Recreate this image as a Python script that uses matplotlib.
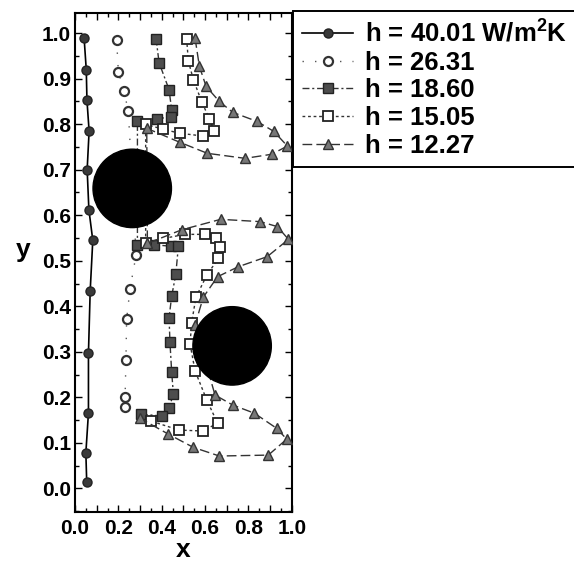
import matplotlib.pyplot as plt
from matplotlib.patches import Ellipse
from matplotlib.ticker import MultipleLocator, FuncFormatter

plt.rcParams["font.family"] = "Liberation Sans"
plt.rcParams["font.weight"] = "bold"
plt.rcParams["mathtext.fontset"] = "custom"
plt.rcParams["mathtext.rm"] = "Liberation Sans:bold"
plt.rcParams["mathtext.bf"] = "Liberation Sans:bold"
plt.rcParams["mathtext.it"] = "Liberation Sans:bold"

# Daten
labels = ["h = 40.01 W/m$^2$K", "h = 26.31", "h = 18.60", "h = 15.05", "h = 12.27"]

x_4001 = [0.042, 0.052, 0.055, 0.065, 0.056, 0.064, 0.082, 0.07, 0.062, 0.062, 0.05, 0.054]
y_4001 = [0.989, 0.919, 0.853, 0.785, 0.700, 0.612, 0.545, 0.434, 0.297, 0.166, 0.078, 0.013]

x_2631 = [0.192, 0.200, 0.226, 0.246, 0.282, 0.254, 0.238, 0.235, 0.231, 0.231]
y_2631 = [0.985, 0.915, 0.873, 0.828, 0.513, 0.439, 0.371, 0.282, 0.200, 0.179]

x_1860 = [0.374, 0.388, 0.434, 0.446, 0.442, 0.380, 0.288, 0.288, 0.365, 0.443, 0.477,
          0.465, 0.446, 0.434, 0.438, 0.446, 0.454, 0.434, 0.400, 0.303]
y_1860 = [0.988, 0.935, 0.876, 0.831, 0.816, 0.812, 0.806, 0.535, 0.535, 0.532, 0.532,
          0.470, 0.422, 0.375, 0.322, 0.256, 0.207, 0.177, 0.159, 0.163]

x_1505 = [0.515, 0.523, 0.546, 0.585, 0.620, 0.643, 0.592, 0.485, 0.405, 0.326, 0.326,
          0.408, 0.508, 0.600, 0.651, 0.669, 0.661, 0.608, 0.558, 0.538, 0.531, 0.554,
          0.608, 0.658, 0.589, 0.480, 0.349]
y_1505 = [0.988, 0.939, 0.898, 0.849, 0.812, 0.785, 0.774, 0.780, 0.789, 0.800, 0.540,
          0.549, 0.558, 0.558, 0.549, 0.530, 0.505, 0.468, 0.420, 0.363, 0.317, 0.258,
          0.194, 0.143, 0.126, 0.128, 0.148]

x_1227 = [0.554, 0.574, 0.605, 0.666, 0.728, 0.841, 0.918, 0.980, 0.908, 0.785, 0.611,
          0.485, 0.331, 0.334, 0.492, 0.672, 0.854, 0.934, 0.985, 0.887, 0.754, 0.658,
          0.592, 0.554, 0.646, 0.728, 0.828, 0.930, 0.977, 0.892, 0.666, 0.546, 0.431, 0.300]
y_1227 = [0.989, 0.927, 0.883, 0.850, 0.826, 0.806, 0.784, 0.752, 0.734, 0.725, 0.736,
          0.760, 0.791, 0.538, 0.568, 0.591, 0.586, 0.575, 0.547, 0.509, 0.487, 0.465,
          0.420, 0.359, 0.205, 0.183, 0.165, 0.132, 0.108, 0.073, 0.071, 0.090, 0.119, 0.154]

# Zylinder (Mittelpunkt, Radius in x-Einheiten)
cyl_x = [0.264, 0.725]
cyl_y = [0.659, 0.313]
cyl_r = 0.181

fig = plt.figure(figsize=(5.74, 5.67), dpi=100)
ax = fig.add_axes([0.1307, 0.097, 0.5082 - 0.1307, 0.9776 - 0.097])

ax.plot(x_4001, y_4001, color="black", linewidth=1.2, linestyle="-",
        marker="o", markersize=6.5, markerfacecolor="#3a3a3a", markeredgecolor="#222222",
        label=labels[0], zorder=4)
ax.plot(x_2631, y_2631, color="#555555", linewidth=1.0, linestyle=(0, (1, 8)),
        marker="o", markersize=6.5, markerfacecolor="white", markeredgecolor="#333333",
        markeredgewidth=1.6, label=labels[1], zorder=4)
ax.plot(x_1860, y_1860, color="#333333", linewidth=1.0, linestyle=(0, (5, 2, 1.5, 2)),
        marker="s", markersize=7.5, markerfacecolor="#4d4d4d", markeredgecolor="#222222",
        label=labels[2], zorder=4)
ax.plot(x_1505, y_1505, color="#333333", linewidth=1.0, linestyle=(0, (2, 2)),
        marker="s", markersize=7.5, markerfacecolor="white", markeredgecolor="#222222",
        markeredgewidth=1.3, label=labels[3], zorder=4)
ax.plot(x_1227, y_1227, color="#333333", linewidth=1.0, linestyle=(0, (7, 3)),
        marker="^", markersize=7.5, markerfacecolor="#777777", markeredgecolor="#333333",
        label=labels[4], zorder=4)

ax.set_xlim(0, 1)
ax.set_ylim(-0.052, 1.045)

# Zylinder als schwarze Kreise (in Pixeln rund)
p0 = ax.transData.transform((0, 0))
p1 = ax.transData.transform((1, 1))
ratio = (p1[0] - p0[0]) / (p1[1] - p0[1])
for cx, cy in zip(cyl_x, cyl_y):
    ax.add_patch(Ellipse((cx, cy), 2 * cyl_r, 2 * cyl_r * ratio,
                         facecolor="black", edgecolor="black", zorder=5))

ax.xaxis.set_major_locator(MultipleLocator(0.1))
ax.xaxis.set_minor_locator(MultipleLocator(0.05))
ax.xaxis.set_major_formatter(FuncFormatter(
    lambda v, p: f"{v:.1f}" if round(v * 10) % 2 == 0 else ""))
ax.yaxis.set_major_locator(MultipleLocator(0.1))
ax.yaxis.set_minor_locator(MultipleLocator(0.05))
ax.yaxis.set_major_formatter(FuncFormatter(lambda v, p: f"{v:.1f}"))

ax.tick_params(which="both", direction="in", top=True, right=True, width=1.0)
ax.tick_params(which="major", length=5, labelsize=15)
ax.tick_params(which="minor", length=3)
ax.tick_params(axis="x", which="major", pad=5)
ax.tick_params(axis="y", which="major", pad=3)
for sp in ax.spines.values():
    sp.set_linewidth(1.5)

ax.set_xlabel("x", fontsize=19, fontweight="bold", labelpad=0)
ax.set_ylabel("y", fontsize=19, fontweight="bold", rotation=0, labelpad=10)
ax.yaxis.set_label_coords(-0.24, 0.5)

leg = fig.legend(loc="upper left", bbox_to_anchor=(0.51, 0.981, 0.6, 0.0),
                 bbox_transform=fig.transFigure, mode="expand",
                 fontsize=18.5, handlelength=2.0, handletextpad=0.45,
                 labelspacing=0.14, borderpad=0.36, borderaxespad=0,
                 fancybox=False, framealpha=1, edgecolor="black")
leg.get_frame().set_linewidth(1.4)

fig.savefig("out.png", dpi=100)
